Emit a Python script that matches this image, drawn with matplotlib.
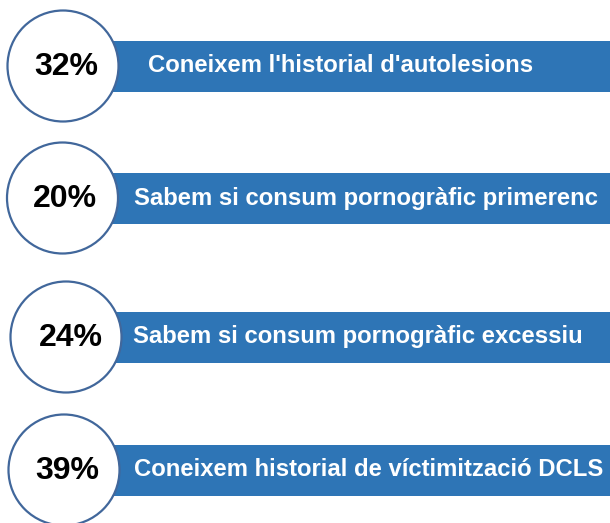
import matplotlib.pyplot as plt
from matplotlib.patches import Circle, Rectangle

percents = [32, 20, 24, 39]
labels = ["Coneixem l'historial d'autolesions",
          "Sabem si consum pornogràfic primerenc",
          "Sabem si consum pornogràfic excessiu",
          "Coneixem historial de víctimització DCLS"]

# layout (pixels)
row_y = [66, 198, 337, 470]
circle_x = [63, 62.5, 66, 64]
pct_x = [66, 65, 71, 67]
text_x = [148, 134, 133, 134]

bar_color = '#2E75B6'
ring_color = '#41679B'

fig = plt.figure(figsize=(6.10, 5.23), dpi=100)
ax = fig.add_axes([0, 0, 1, 1])
ax.set_xlim(0, 610)
ax.set_ylim(523, 0)
ax.axis('off')

for i in range(len(percents)):
    y = row_y[i]
    ax.add_patch(Rectangle((100, y - 25.5), 512, 51, facecolor=bar_color,
                           edgecolor='none', zorder=1))
    ax.add_patch(Circle((circle_x[i], y), 55.5, facecolor='white',
                        edgecolor=ring_color, linewidth=1.6, zorder=2))
    ax.text(pct_x[i], y + 1, f"{percents[i]}%", ha='center', va='center',
            fontsize=23, fontweight='bold', family='Liberation Sans',
            color='black', zorder=3)
    ax.text(text_x[i], y, labels[i], ha='left', va='center',
            fontsize=17.2, fontweight='bold', family='Liberation Sans',
            color='white', zorder=3)

fig.savefig('out.png', dpi=100)
